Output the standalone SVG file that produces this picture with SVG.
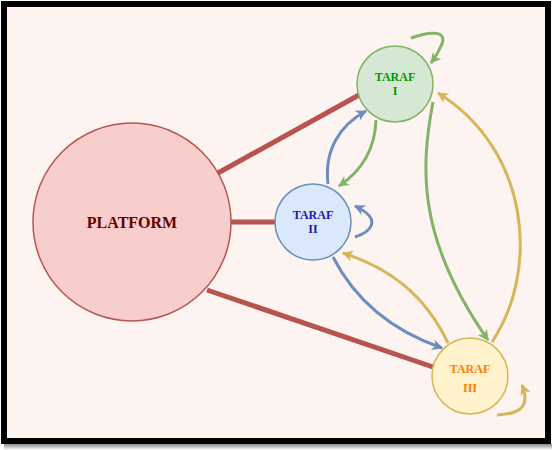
<svg xmlns="http://www.w3.org/2000/svg" width="552" height="450" viewBox="0 0 552 450">
<defs>
<linearGradient id="shadow" x1="0" y1="0" x2="0" y2="1">
<stop offset="0" stop-color="#888"/>
<stop offset="1" stop-color="#fff"/>
</linearGradient>
<marker id="ag" viewBox="0 0 10 10" refX="9" refY="5" markerWidth="11" markerHeight="11" markerUnits="userSpaceOnUse" orient="auto"><path d="M0,0 L10,5 L0,10 L3,5 z" fill="#82b366"/></marker>
<marker id="ab" viewBox="0 0 10 10" refX="9" refY="5" markerWidth="11" markerHeight="11" markerUnits="userSpaceOnUse" orient="auto"><path d="M0,0 L10,5 L0,10 L3,5 z" fill="#6c8ebf"/></marker>
<marker id="ay" viewBox="0 0 10 10" refX="9" refY="5" markerWidth="11" markerHeight="11" markerUnits="userSpaceOnUse" orient="auto"><path d="M0,0 L10,5 L0,10 L3,5 z" fill="#d6b656"/></marker>
</defs>
<style>
.lbl{font-family:"Liberation Serif","Times New Roman",serif;font-weight:bold;text-anchor:middle}
.red{stroke:#b85450;stroke-width:5;fill:none}
.g{stroke:#82b366;stroke-width:3;fill:none;marker-end:url(#ag)}
.b{stroke:#6c8ebf;stroke-width:3;fill:none;marker-end:url(#ab)}
.y{stroke:#d6b656;stroke-width:3;fill:none;marker-end:url(#ay)}
</style>
<rect x="0" y="0" width="552" height="450" fill="#ffffff"/>
<rect x="4" y="444" width="548" height="6" fill="url(#shadow)"/>
<rect x="4" y="4" width="544" height="437" fill="#fdf3f1" stroke="#000" stroke-width="6"/>
<g id="connectors">
<line class="red" x1="218" y1="173" x2="359" y2="95"/>
<line class="red" x1="231" y1="222" x2="275" y2="222"/>
<line class="red" x1="207" y1="290" x2="433" y2="367"/>
<path class="g" d="M411,38 C430,31 449,30 441,46 C438,53 435,58 431,63"/>
<path class="g" d="M376,120 C375,150 360,172 339,186"/>
<path class="g" d="M433,102 C420,170 418,240 488,340"/>
<path class="b" d="M328,184 C324,150 340,125 366,111"/>
<path class="b" d="M355,237 C370,232 384,220 355,206"/>
<path class="b" d="M333,257 C355,300 390,330 442,348"/>
<path class="y" d="M448,343 C425,295 390,268 343,253"/>
<path class="y" d="M492,342 C540,270 530,150 438,93"/>
<path class="y" d="M497,415 C515,414 532,410 522,385"/>
</g>
<g id="platform">
<circle cx="132" cy="222" r="99" fill="#f8cecc" stroke="#b85450" stroke-width="1.5"/>
<text class="lbl" x="132" y="228" font-size="16" fill="#660000">PLATFORM</text>
</g>
<g id="taraf1">
<circle cx="395" cy="84" r="38" fill="#d5e8d4" stroke="#82b366" stroke-width="1.5"/>
<text class="lbl" x="395" y="81" font-size="12" fill="#009900">TARAF</text>
<text class="lbl" x="395" y="95" font-size="12" fill="#009900">I</text>
</g>
<g id="taraf2">
<circle cx="313" cy="222" r="38" fill="#dae8fc" stroke="#6c8ebf" stroke-width="1.5"/>
<text class="lbl" x="313" y="219" font-size="12" fill="#1a1aaa">TARAF</text>
<text class="lbl" x="313" y="233" font-size="12" fill="#1a1aaa">II</text>
</g>
<g id="taraf3">
<circle cx="470" cy="376" r="38" fill="#fff2cc" stroke="#d6b656" stroke-width="1.5"/>
<text class="lbl" x="470" y="373" font-size="12" fill="#ff8000">TARAF</text>
<text class="lbl" x="470" y="392" font-size="12" fill="#ff8000">III</text>
</g>
</svg>
